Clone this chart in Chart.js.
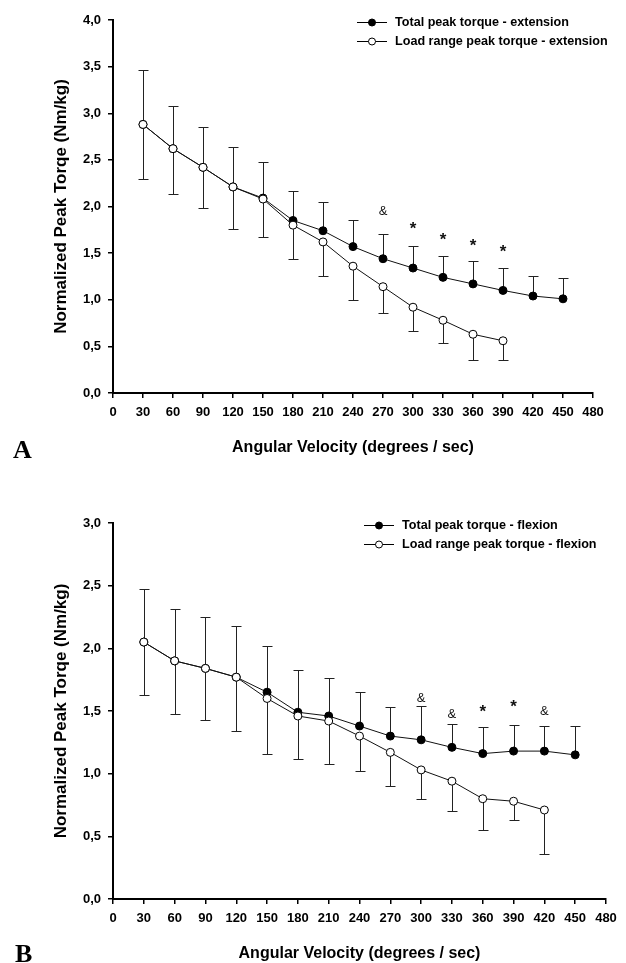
<!DOCTYPE html>
<html>
<head>
<meta charset="utf-8">
<script src="https://cdn.jsdelivr.net/npm/chart.js@4.4.1/dist/chart.umd.min.js"></script>
<style>
  html, body { margin: 0; padding: 0; background: #fff; }
  body { width: 626px; height: 963px; position: relative; overflow: hidden; }
  .panel { position: absolute; left: 0; width: 626px; }
  #panelA { top: 0; height: 480px; }
  #panelB { top: 480px; height: 483px; }
</style>
</head>
<body>
<div class="panel" id="panelA"><canvas id="chartA"></canvas></div>
<div class="panel" id="panelB"><canvas id="chartB"></canvas></div>
<script>
const velocities = [30, 60, 90, 120, 150, 180, 210, 240, 270, 300, 330, 360, 390, 420, 450];
const xTicks = [0, 30, 60, 90, 120, 150, 180, 210, 240, 270, 300, 330, 360, 390, 420, 450, 480];

// Panel A - extension
const extTotal = [2.88, 2.62, 2.42, 2.21, 2.09, 1.85, 1.74, 1.57, 1.44, 1.34, 1.24, 1.17, 1.10, 1.04, 1.01];
const extTotalUpper = [3.46, 3.08, 2.85, 2.64, 2.48, 2.17, 2.05, 1.85, 1.71, 1.58, 1.47, 1.42, 1.34, 1.26, 1.23];
const extLoad = [2.88, 2.62, 2.42, 2.21, 2.08, 1.80, 1.62, 1.36, 1.14, 0.92, 0.78, 0.63, 0.56, null, null];
const extLoadLower = [2.29, 2.13, 1.98, 1.76, 1.67, 1.44, 1.25, 1.00, 0.86, 0.66, 0.54, 0.35, 0.35, null, null];
const extMarks = [null, null, null, null, null, null, null, null, "&", "*", "*", "*", "*", null, null];
const extMarkValues = [null, null, null, null, null, null, null, null, 1.95, 1.79, 1.67, 1.61, 1.54, null, null];

// Panel B - flexion
const flexTotal = [2.05, 1.90, 1.84, 1.77, 1.65, 1.49, 1.46, 1.38, 1.30, 1.27, 1.21, 1.16, 1.18, 1.18, 1.15];
const flexTotalUpper = [2.47, 2.31, 2.25, 2.18, 2.02, 1.83, 1.76, 1.65, 1.53, 1.54, 1.40, 1.37, 1.39, 1.38, 1.38];
const flexLoad = [2.05, 1.90, 1.84, 1.77, 1.60, 1.46, 1.42, 1.30, 1.17, 1.03, 0.94, 0.80, 0.78, 0.71, null];
const flexLoadLower = [1.63, 1.48, 1.43, 1.34, 1.16, 1.12, 1.08, 1.02, 0.90, 0.80, 0.70, 0.55, 0.63, 0.36, null];
const flexMarks = [null, null, null, null, null, null, null, null, null, "&", "&", "*", "*", "&", null];
const flexMarkValues = [null, null, null, null, null, null, null, null, null, 1.60, 1.47, 1.51, 1.55, 1.50, null];

const sansFont = "'Liberation Sans', Arial, sans-serif";

function toPoints(values) {
  return values.map((v, i) => ({ x: velocities[i], y: v }));
}

function formatComma(value) {
  return value.toFixed(1).replace(".", ",");
}

function makeExtrasPlugin(setup) {
  return {
    id: "extras" + setup.letter,
    beforeDatasetsDraw(chart) {
      const ctx = chart.ctx;
      const xScale = chart.scales.x;
      const yScale = chart.scales.y;
      ctx.save();
      ctx.strokeStyle = "#222";
      ctx.lineWidth = 1;
      const pairs = [[setup.total, setup.totalUpper], [setup.load, setup.loadLower]];
      pairs.forEach(([values, bounds]) => {
        values.forEach((v, i) => {
          if (v === null || bounds[i] === null) return;
          const px = Math.round(xScale.getPixelForValue(velocities[i])) + 0.5;
          const py = yScale.getPixelForValue(v);
          const pb = Math.round(yScale.getPixelForValue(bounds[i])) + 0.5;
          ctx.beginPath();
          ctx.moveTo(px, py);
          ctx.lineTo(px, pb);
          ctx.moveTo(px - 5, pb);
          ctx.lineTo(px + 5, pb);
          ctx.stroke();
        });
      });
      ctx.restore();
    },
    afterDraw(chart) {
      const ctx = chart.ctx;
      const xScale = chart.scales.x;
      const yScale = chart.scales.y;
      ctx.save();
      ctx.fillStyle = "#111";
      ctx.textAlign = "center";
      ctx.textBaseline = "middle";
      setup.marks.forEach((m, i) => {
        if (m === null) return;
        const px = xScale.getPixelForValue(velocities[i]);
        const py = yScale.getPixelForValue(setup.markValues[i]);
        if (m === "*") {
          ctx.font = "bold 17px " + sansFont;
          ctx.fillText(m, px, py + 3);
        } else {
          ctx.font = "13px " + sansFont;
          ctx.fillText(m, px, py);
        }
      });

      // legend
      setup.legend.forEach((item, k) => {
        const y = setup.legendY + k * setup.legendGap;
        const x0 = setup.legendX;
        ctx.strokeStyle = "#000";
        ctx.lineWidth = 1;
        ctx.beginPath();
        ctx.moveTo(x0, y + 0.5);
        ctx.lineTo(x0 + 30, y + 0.5);
        ctx.stroke();
        ctx.beginPath();
        ctx.arc(x0 + 15, y + 0.5, 3.5, 0, Math.PI * 2);
        ctx.fillStyle = item.filled ? "#000" : "#fff";
        ctx.fill();
        ctx.stroke();
        ctx.fillStyle = "#000";
        ctx.font = "bold 12.6px " + sansFont;
        ctx.textAlign = "left";
        ctx.textBaseline = "middle";
        ctx.fillText(item.text, x0 + 38, y + 1);
      });

      // panel letter
      ctx.font = "bold 26px 'Liberation Serif', 'Times New Roman', serif";
      ctx.textAlign = "left";
      ctx.textBaseline = "alphabetic";
      ctx.fillStyle = "#000";
      ctx.fillText(setup.letter, setup.letterX, setup.letterY);
      ctx.restore();
    }
  };
}

function makePanel(canvasId, setup) {
  const canvas = document.getElementById(canvasId);
  canvas.width = 626;
  canvas.height = setup.height;
  canvas.style.width = "626px";
  canvas.style.height = setup.height + "px";

  return new Chart(canvas.getContext("2d"), {
    type: "line",
    data: {
      datasets: [
        {
          label: setup.legend[0].text,
          data: toPoints(setup.total),
          borderColor: "#111",
          borderWidth: 1,
          pointRadius: 4,
          pointBorderWidth: 1,
          pointBackgroundColor: "#000",
          pointBorderColor: "#000",
          order: 1
        },
        {
          label: setup.legend[1].text,
          data: toPoints(setup.load),
          borderColor: "#111",
          borderWidth: 1,
          pointRadius: 4,
          pointBorderWidth: 1,
          pointBackgroundColor: "#fff",
          pointBorderColor: "#000",
          order: 0
        }
      ]
    },
    options: {
      responsive: false,
      animation: false,
      devicePixelRatio: 1,
      layout: {
        padding: { left: 0, right: setup.padRight, top: setup.padTop, bottom: 0 }
      },
      plugins: {
        legend: { display: false },
        tooltip: { enabled: false }
      },
      scales: {
        x: {
          type: "linear",
          min: 0,
          max: 480,
          afterBuildTicks(scale) {
            scale.ticks = xTicks.map((v) => ({ value: v }));
          },
          afterFit(scale) {
            scale.height = setup.xAxisHeight;
          },
          ticks: {
            autoSkip: false,
            maxRotation: 0,
            padding: 7,
            color: "#000",
            font: { family: sansFont, size: 13, weight: "bold" }
          },
          grid: {
            drawOnChartArea: false,
            drawTicks: true,
            tickLength: 5,
            color: "#000",
            lineWidth: 1.5
          },
          border: { display: true, color: "#000", width: 2 },
          title: {
            display: true,
            text: "Angular Velocity (degrees / sec)",
            color: "#000",
            font: { family: sansFont, size: 16, weight: "bold" },
            padding: { top: 0, bottom: setup.xTitlePad }
          }
        },
        y: {
          min: 0,
          max: setup.yMax,
          afterFit(scale) {
            scale.width = 113;
          },
          ticks: {
            stepSize: 0.5,
            padding: 7,
            color: "#000",
            font: { family: sansFont, size: 13, weight: "bold" },
            callback: (value) => formatComma(value)
          },
          grid: {
            drawOnChartArea: false,
            drawTicks: true,
            tickLength: 5,
            color: "#000",
            lineWidth: 1.5
          },
          border: { display: true, color: "#000", width: 2 },
          title: {
            display: true,
            text: "Normalized Peak Torqe (Nm/kg)",
            color: "#000",
            font: { family: sansFont, size: 17, weight: "bold" },
            padding: { top: 51, bottom: 0 }
          }
        }
      }
    },
    plugins: [makeExtrasPlugin(setup)]
  });
}

makePanel("chartA", {
  letter: "A",
  height: 480,
  padTop: 20,
  padRight: 33,
  xAxisHeight: 87,
  xTitlePad: 23,
  yMax: 4,
  total: extTotal,
  totalUpper: extTotalUpper,
  load: extLoad,
  loadLower: extLoadLower,
  marks: extMarks,
  markValues: extMarkValues,
  legend: [
    { text: "Total peak torque - extension", filled: true },
    { text: "Load range peak torque - extension", filled: false }
  ],
  legendX: 357,
  legendY: 22,
  legendGap: 19,
  letterX: 13,
  letterY: 458
});

makePanel("chartB", {
  letter: "B",
  height: 483,
  padTop: 43,
  padRight: 20,
  xAxisHeight: 64,
  xTitlePad: 0,
  yMax: 3,
  total: flexTotal,
  totalUpper: flexTotalUpper,
  load: flexLoad,
  loadLower: flexLoadLower,
  marks: flexMarks,
  markValues: flexMarkValues,
  legend: [
    { text: "Total peak torque - flexion", filled: true },
    { text: "Load range peak torque - flexion", filled: false }
  ],
  legendX: 364,
  legendY: 45,
  legendGap: 19,
  letterX: 15,
  letterY: 482
});
</script>
</body>
</html>
